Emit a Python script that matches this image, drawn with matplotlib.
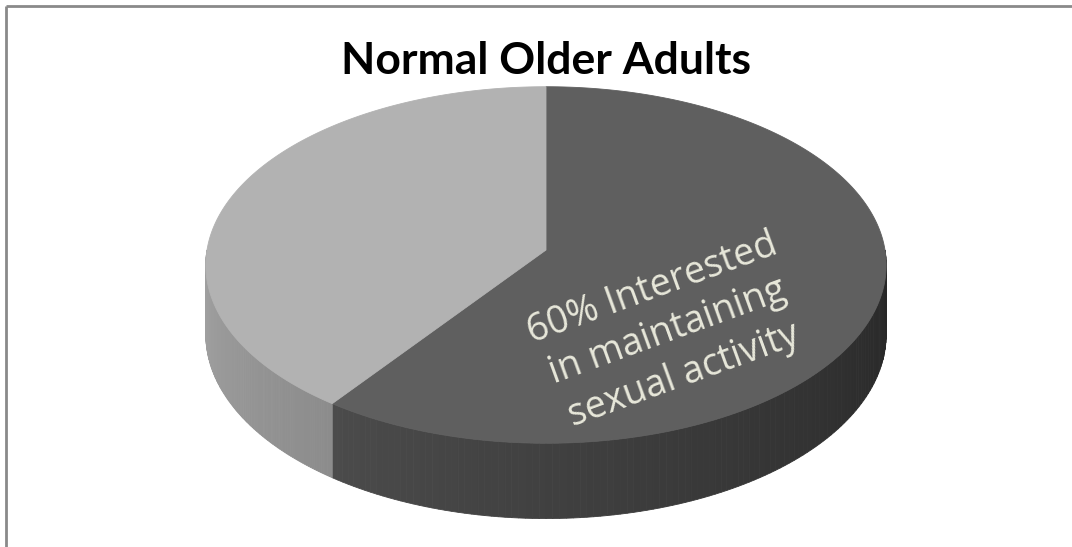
import numpy as np
import matplotlib.pyplot as plt
from matplotlib.patches import Polygon
import matplotlib.colors as mcolors

title = "Normal Older Adults"
labels = ["60% Interested\nin maintaining\nsexual activity", ""]
shares = [60, 40]
top_colors = ["#5f5f5f", "#b2b2b2"]
side_colors = [("#4b4b4b", "#262626"), ("#a3a3a3", "#8c8c8c")]

# pie geometry in pixel units (simple perspective: front half looks bigger)
cx, cy = 546, 250
A, B = 339, 177
p = 0.084
D = 69

fig = plt.figure(figsize=(10.72, 5.47), dpi=100)
ax = fig.add_axes([0, 0, 1, 1])
ax.set_xlim(0, 1072)
ax.set_ylim(547, 0)
ax.axis("off")


def rim(t):
    t = np.radians(t)
    g = 1 / (1 + p * np.sin(t))
    return cx + A * np.cos(t) * g, cy - B * np.sin(t) * g, D * g


# slice angles, clockwise from 12 o'clock
fracs = np.array(shares) / sum(shares)
starts = 90 - 360 * np.concatenate([[0], np.cumsum(fracs)[:-1]])
ends = starts - 360 * fracs

# side walls (front half only)
for s, e, (c0, c1) in zip(starts, ends, side_colors):
    lo, hi = max(e, -180), min(s, 0)
    if lo >= hi:
        lo, hi = max(e + 360, -180), min(s + 360, 0)
    if lo >= hi:
        continue
    ts = np.linspace(lo, hi, 120)
    col0 = np.array(mcolors.to_rgb(c0))
    col1 = np.array(mcolors.to_rgb(c1))
    for i in range(len(ts) - 1):
        x0, y0, d0 = rim(ts[i])
        x1, y1, d1 = rim(ts[i + 1])
        f = i / (len(ts) - 2)
        c = col0 * (1 - f) + col1 * f
        ax.add_patch(Polygon([(x0, y0), (x1, y1), (x1, y1 + d1), (x0, y0 + d0)],
                             closed=True, facecolor=c, edgecolor=c, linewidth=0.6))

# top faces
for s, e, col in zip(starts, ends, top_colors):
    ts = np.linspace(s, e, 200)
    xs, ys, _ = rim(ts)
    pts = [(cx, cy)] + list(zip(xs, ys))
    ax.add_patch(Polygon(pts, closed=True, facecolor=col, edgecolor=col, linewidth=0.6))

ax.text(668, 332, labels[0], rotation=20, ha="center", va="center",
        rotation_mode="anchor", fontsize=27, color="#e8e8da",
        family="Open Sans", linespacing=1.28)

ax.text(546, 61, title, ha="center", va="center", fontsize=32,
        fontweight="bold", family="Lato", color="black")

# frame (left and top only)
ax.plot([5.5, 5.5], [547, 5.5], color="#8a8a8a", linewidth=2, solid_capstyle="butt")
ax.plot([5.5, 1072], [5.5, 5.5], color="#8a8a8a", linewidth=2, solid_capstyle="butt")

fig.savefig("out.png", dpi=100, facecolor="white")
